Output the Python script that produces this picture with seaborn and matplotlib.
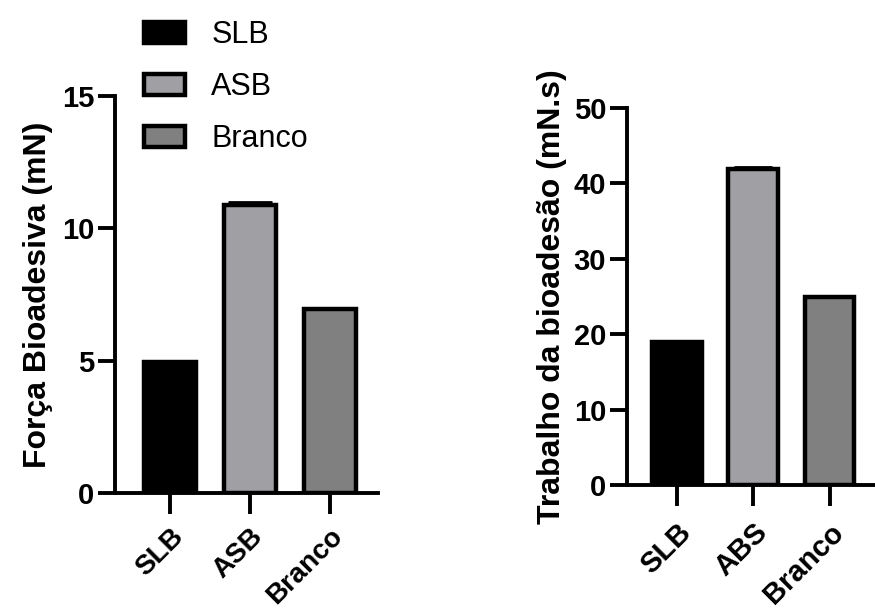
import matplotlib
matplotlib.use("Agg")
import matplotlib.pyplot as plt
import matplotlib.transforms as mtransforms
import seaborn as sns
import pandas as pd
from matplotlib.patches import Patch

# ---- data ----
left_categories = ["SLB", "ASB", "Branco"]
left_values = [4.95, 10.9, 6.95]
left_err = [0.05, 0.1, 0.05]
left_ticks = [0, 5, 10, 15]

right_categories = ["SLB", "ABS", "Branco"]
right_values = [19.0, 41.9, 24.9]
right_err = [0.15, 0.3, 0.1]
right_ticks = [0, 10, 20, 30, 40, 50]

legend_labels = ["SLB", "ASB", "Branco"]
bar_colors = ["#000000", "#A0A0A4", "#808080"]

sns.set_theme(style="ticks")
plt.rcParams["font.family"] = ["Liberation Sans", "DejaVu Sans"]
for k in ["text.color", "axes.labelcolor", "xtick.color", "ytick.color", "axes.edgecolor"]:
    plt.rcParams[k] = "black"

fig = plt.figure(figsize=(8.75, 6.14), dpi=100)
W, H = 875, 614

def make_ax(l, r, b, t):
    return fig.add_axes([l / W, 1 - b / H, (r - l) / W, (b - t) / H])

axL = make_ax(115, 378, 493, 96)
axR = make_ax(627, 877, 485, 108)

def draw(ax, cats, vals, errs, ticks, ylabel, xlim, labelpad, capsize, xfs, xpad):
    df = pd.DataFrame({"cat": cats, "val": vals})
    sns.barplot(data=df, x="cat", y="val", hue="cat", palette=bar_colors,
                order=cats, hue_order=cats, width=0.65, edgecolor="black",
                linewidth=3.2, legend=False, ax=ax, errorbar=None, saturation=1)
    ax.errorbar(range(len(cats)), vals, yerr=[[0] * len(errs), errs],
                fmt="none", ecolor="black", elinewidth=2, capsize=capsize, capthick=2)
    ax.set_xlim(*xlim)
    ax.set_ylim(0, ticks[-1])
    ax.set_yticks(ticks)
    ax.set_yticklabels([str(t) for t in ticks], fontsize=21, fontweight="bold")
    ax.set_xticks(range(len(cats)))
    ax.set_xticklabels(cats, rotation=45, ha="right", rotation_mode="anchor",
                       fontsize=xfs, fontweight="bold")
    off = mtransforms.ScaledTranslation(3 / 100, 0, fig.dpi_scale_trans)
    for lab in ax.get_xticklabels():
        lab.set_transform(lab.get_transform() + off)
    ax.set_xlabel("")
    ax.set_ylabel(ylabel, fontsize=23, fontweight="bold", labelpad=labelpad)
    for s in ["top", "right"]:
        ax.spines[s].set_visible(False)
    for s in ["left", "bottom"]:
        ax.spines[s].set_linewidth(2.8)
        ax.spines[s].set_color("black")
    ax.tick_params(axis="y", length=12, width=2.8, color="black", pad=3)
    ax.tick_params(axis="x", length=15, width=2.8, color="black", pad=xpad)
    ax.set_facecolor("white")

draw(axL, left_categories, left_values, left_err, left_ticks,
     "Força Bioadesiva (mN)", (-0.69, 2.6), 6, 16, 20, 7)
draw(axR, right_categories, right_values, right_err, right_ticks,
     "Trabalho da bioadesão (mN.s)", (-0.65, 2.62), 5, 14, 21, 9)

handles = [Patch(facecolor=c, edgecolor="black", linewidth=3.2) for c in bar_colors]
fig.legend(handles, legend_labels, loc="upper left",
           bbox_to_anchor=(144 / W, 1 - 20 / H), frameon=False,
           prop={"size": 22, "weight": "normal"}, handlelength=1.35,
           handleheight=0.7, handletextpad=0.85, labelspacing=0.72, borderpad=0,
           borderaxespad=0)

fig.savefig("out.png", dpi=100, facecolor="white")
